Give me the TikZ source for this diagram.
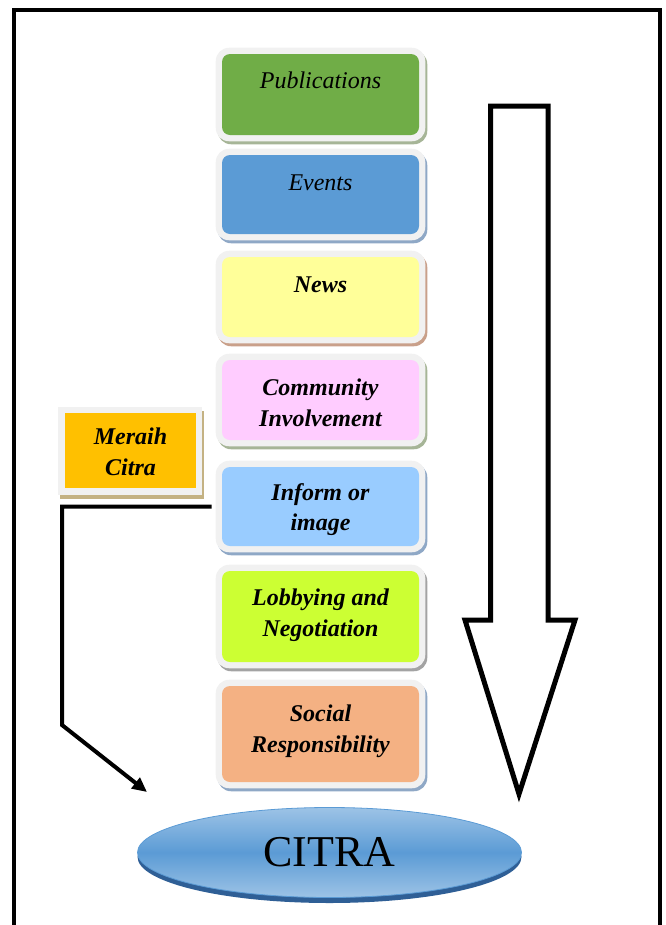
\documentclass[tikz,border=0pt]{standalone}
\usepackage{fontspec}
\setmainfont{Liberation Serif}
\usetikzlibrary{arrows.meta,shapes.geometric,backgrounds}
\definecolor{framegray}{HTML}{F1F1F1}
\definecolor{pubg}{HTML}{70AD47}
\definecolor{evb}{HTML}{5B9BD5}
\definecolor{newsy}{HTML}{FFFF99}
\definecolor{comp}{HTML}{FFCCFF}
\definecolor{infb}{HTML}{99CCFF}
\definecolor{lobg}{HTML}{CCFF33}
\definecolor{socp}{HTML}{F4B183}
\definecolor{merh}{HTML}{FFC000}
\definecolor{shgreen}{HTML}{A6B597}
\definecolor{shblue}{HTML}{8FA8C6}
\definecolor{shtan}{HTML}{C9A08A}
\definecolor{shgray}{HTML}{A3A3A3}
\definecolor{shgold}{HTML}{C4B283}
\definecolor{ellmid}{HTML}{5B9BD5}
\definecolor{elllight}{HTML}{9DC3E6}
\definecolor{ellshadow}{HTML}{2F5F96}
\begin{document}
\begin{tikzpicture}[x=0.75pt,y=-0.75pt,
  pbox/.style={rectangle, rounded corners=6pt, inner sep=0pt, minimum width=147.75pt},
  lbl/.style={font=\fontsize{18}{23}\selectfont\bfseries\itshape, align=center, inner sep=0pt},
  lbln/.style={font=\fontsize{18}{23}\selectfont\itshape, align=center, inner sep=0pt},
  conn/.style={line width=3pt, -{Triangle[length=11pt,width=10pt]}},
  bigarrow/.style={line width=3.75pt, miter limit=10, fill=white}]
\useasboundingbox (0,0) rectangle (666,925);
% outer frame (open at bottom)
\draw[line width=3pt] (14,940) -- (14,10) -- (660,10) -- (660,940);

% stacked boxes
\node[pbox, fill=pubg,  minimum height=60.75pt] (pub) at (320.5,94.5) {};
\node[pbox, fill=evb,   minimum height=59.25pt] (ev)  at (320.5,194.5) {};
\node[pbox, fill=newsy, minimum height=60pt]    (news) at (320.5,297) {};
\node[pbox, fill=comp,  minimum height=60pt]    (com) at (320.5,400) {};
\node[pbox, fill=infb,  minimum height=59.25pt] (inf) at (320.5,506.5) {};
\node[pbox, fill=lobg,  minimum height=68.25pt] (lob) at (320.5,616.5) {};
\node[pbox, fill=socp,  minimum height=72pt]    (soc) at (320.5,734) {};
\node[rectangle, inner sep=0pt, fill=merh, minimum width=98.25pt, minimum height=56.25pt] (mer) at (130.5,450.5) {};

\begin{scope}[on background layer]
  \foreach \n/\s in {pub/shgreen, ev/shblue, news/shtan, com/shgreen, inf/shblue, lob/shgray, soc/shblue}{
    \fill[\s, rounded corners=10pt] ([shift={(-4,-3)}]\n.north west) rectangle ([shift={(8,9)}]\n.south east);
    \fill[framegray, rounded corners=10pt] ([shift={(-6,-6)}]\n.north west) rectangle ([shift={(6,6)}]\n.south east);
  }
  \fill[shgold] ([shift={(-5,-2)}]mer.north west) rectangle ([shift={(8,11)}]mer.south east);
  \fill[framegray] ([shift={(-7,-6)}]mer.north west) rectangle ([shift={(6,7)}]mer.south east);
\end{scope}

% labels
\node[lbln, anchor=base] (tpub) at (320.5,88) {Publications};
\node[lbln, anchor=base] (tev) at (320.5,190) {Events};
\node[lbl, anchor=base] (tnews) at (320.5,292) {News};
\node[lbl] (tcom) at (320.5,403) {Community\\Involvement};
\node[lbl] (tinf) at (320.5,509.5) {Inform or\\image};
\node[lbl] (tlob) at (320.5,615) {Lobbying and\\Negotiation};
\node[lbl] (tsoc) at (320.5,731) {Social\\Responsibility};
\node[lbl] (tmer) at (130.5,452) {Meraih\\Citra};

% CITRA ellipse
\fill[ellshadow] (329.5,857) ellipse [x radius=144pt, y radius=34.5pt];
\node[ellipse, minimum width=288pt, minimum height=67.5pt, inner sep=0pt,
      top color=elllight, bottom color=elllight, middle color=ellmid,
      draw=ellmid, line width=0.6pt,
      font=\fontsize{33}{36}\selectfont] (citra) at (329.5,852.5) {CITRA};

% big down arrow
\draw[bigarrow] (490.5,106) -- (548,106) -- (548,620) -- (575,620) -- (519,794) -- (465,620) -- (490.5,620) -- cycle;

% connector
\coordinate (cstart) at ([xshift=-7.5pt]inf.west);
\coordinate (cbend) at (62,725);
\coordinate (cend) at (147,792);
\draw[conn] (cstart) -| (cbend) -- (cend);
\end{tikzpicture}
\end{document}
